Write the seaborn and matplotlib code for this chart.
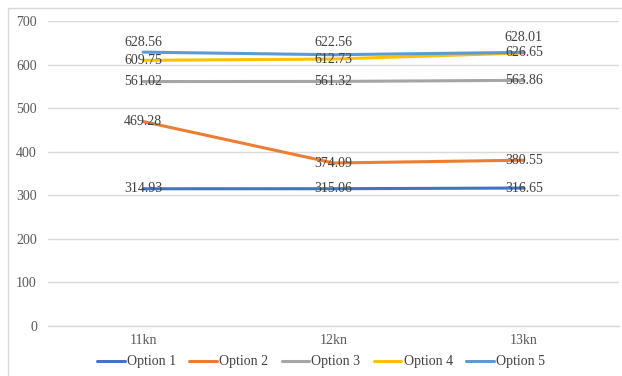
import matplotlib
matplotlib.use("Agg")
import matplotlib.pyplot as plt
import seaborn as sns
import pandas as pd
from matplotlib.patches import Rectangle

categories = ["11kn", "12kn", "13kn"]
series_names = ["Option 1", "Option 2", "Option 3", "Option 4", "Option 5"]
option1 = [314.93, 315.06, 316.65]
option2 = [469.28, 374.09, 380.55]
option3 = [561.02, 561.32, 563.86]
option4 = [609.75, 612.73, 626.65]
option5 = [628.56, 622.56, 628.01]
colors = ["#4472C4", "#ED7D31", "#A5A5A5", "#FFC000", "#5B9BD5"]

all_values = [option1, option2, option3, option4, option5]
# vertical label offsets (points), style only
label_offsets = [[0, 0, 0], [0, 0, 0], [0, 0, 0], [0, 0, 0], [7, 9, 11]]

rows = []
for name, vals in zip(series_names, all_values):
    for i, (c, v) in enumerate(zip(categories, vals)):
        rows.append({"cat": c, "idx": i, "value": v, "series": name})
df = pd.DataFrame(rows)

sns.set_theme(style="white")
plt.rcParams["font.family"] = ["Liberation Serif", "DejaVu Serif"]

fig = plt.figure(figsize=(6.22, 3.76), dpi=100)
ax = fig.add_axes([48/622, 1-326/376, (619-48)/622, (326-21)/376])

sns.lineplot(data=df, x="idx", y="value", hue="series", palette=colors,
             hue_order=series_names, linewidth=2.2, ax=ax, legend=True,
             sort=False)

for name, vals, offs in zip(series_names, all_values, label_offsets):
    for i, (v, off) in enumerate(zip(vals, offs)):
        ax.annotate(f"{v:.2f}", (i, v), xytext=(0, off), textcoords="offset points",
                    ha="center", va="center", fontsize=10, color="#404040")

ax.set_xlim(-0.5, 2.5)
ax.set_ylim(0, 700)
ax.set_yticks(range(0, 701, 100))
ax.set_xticks(range(len(categories)))
ax.set_xticklabels(categories)
ax.set_xlabel("")
ax.set_ylabel("")
ax.tick_params(axis="both", length=0, labelsize=10, labelcolor="#595959")
ax.tick_params(axis="y", pad=8)
ax.tick_params(axis="x", pad=6)
ax.grid(axis="y", color="#D9D9D9", linewidth=1)
ax.set_axisbelow(True)
for s in ["top", "right", "left"]:
    ax.spines[s].set_visible(False)
ax.spines["bottom"].set_color("#D9D9D9")
ax.spines["bottom"].set_linewidth(1)

handles, labels = ax.get_legend_handles_labels()
ax.get_legend().remove()
leg = fig.legend(handles, labels, loc="center", bbox_to_anchor=(321/622, 1-362/376),
                 ncol=5, frameon=False, fontsize=10, handlelength=2.0,
                 handletextpad=0.15, columnspacing=0.95)
for t in leg.get_texts():
    t.set_color("#404040")

fig.patches.append(Rectangle((8/622, -0.1), 1.2, 1.1 - 8/376, transform=fig.transFigure,
                             fill=False, edgecolor="#D9D9D9", linewidth=1))

fig.savefig("out.png", dpi=100)
